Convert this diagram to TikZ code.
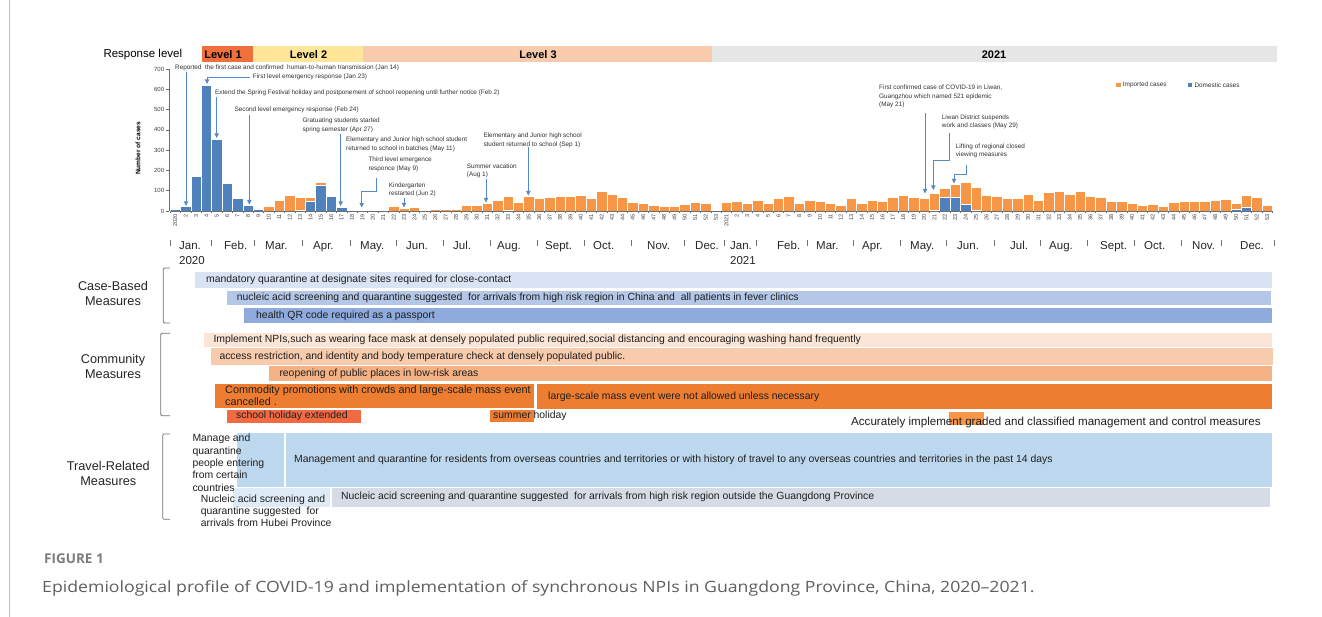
\documentclass[tikz,border=0pt]{standalone}
\usepackage{fontspec}
\setmainfont{Liberation Sans}
\newfontfamily\capfont{Open Sans}
\usetikzlibrary{arrows.meta,fit}
\definecolor{lvA}{RGB}{240,112,60}
\definecolor{lvB}{RGB}{255,230,153}
\definecolor{lvC}{RGB}{248,203,173}
\definecolor{lvD}{RGB}{230,230,230}
\definecolor{impc}{RGB}{247,150,70}
\definecolor{domc}{RGB}{79,129,189}
\definecolor{arrc}{RGB}{84,138,203}
\definecolor{axc}{RGB}{110,110,110}
\definecolor{anntext}{RGB}{50,50,50}
\definecolor{cbA}{RGB}{218,227,243}
\definecolor{cbB}{RGB}{180,199,231}
\definecolor{cbC}{RGB}{143,170,220}
\definecolor{cmA}{RGB}{251,229,214}
\definecolor{cmB}{RGB}{248,203,173}
\definecolor{cmC}{RGB}{244,177,131}
\definecolor{cmD}{RGB}{237,125,49}
\definecolor{cmE}{RGB}{241,106,66}
\definecolor{trA}{RGB}{189,215,238}
\definecolor{trB}{RGB}{222,235,247}
\definecolor{trC}{RGB}{214,220,229}
\definecolor{framec}{RGB}{190,190,190}
\definecolor{capc}{RGB}{95,95,95}
\definecolor{figc}{RGB}{125,125,125}
\newcommand\mbar[6]{\node[fit={(#3,#4)(#5,#6)}, inner sep=0, fill=#2] (#1) {};}
\begin{document}
\begin{tikzpicture}[x=1pt,y=-1pt,
 ann/.style={font=\fontsize{6.4}{8.5}\selectfont, text=anntext, inner sep=0, align=left, anchor=west},
 arr/.style={draw=arrc, line width=0.8, -{Triangle[width=4.2pt,length=4.5pt]}},
 lvl/.style={font=\fontsize{11}{13}\selectfont\bfseries, inner sep=0},
 mtext/.style={font=\fontsize{10.4}{11.8}\selectfont, text=black!88, inner sep=0, anchor=west, align=left},
 grp/.style={font=\fontsize{12.7}{15.3}\selectfont, align=center, inner sep=0, text=black!85},
 brk/.style={draw=black!55, line width=0.8, rounded corners=1.2},
 xlab/.style={rotate=90, anchor=east, font=\fontsize{5.5}{6}\selectfont, inner sep=0, text=black!75},
 ylab/.style={anchor=east, font=\fontsize{6}{7}\selectfont, inner sep=0, text=black!75},
 mon/.style={anchor=base west, font=\fontsize{11.5}{13}\selectfont, inner sep=0, text=black!85},
 bar/.style={draw=white, line width=0.5}]
\useasboundingbox (0,0) rectangle (1322,617);
\fill[white] (0,0) rectangle (1322,617);
\draw[framec, line width=1] (9,0) -- (9,617);

% response level
\node[font=\fontsize{11.5}{13}\selectfont, anchor=base west, inner sep=0] (resp) at (103.3,57.3) {Response level};
\mbar{lv1}{lvA}{202}{46}{253}{62}
\mbar{lv2}{lvB}{253}{46}{363}{62}
\mbar{lv3}{lvC}{363}{46}{712}{62}
\mbar{lv4}{lvD}{712}{46}{1277}{62}
\node[lvl] (lv1t) at (223,54.5) {Level 1};
\node[lvl] (lv2t) at (308.5,54.5) {Level 2};
\node[lvl] (lv3t) at (538,54.5) {Level 3};
\node[lvl] (lv4t) at (994,54.5) {2021};

% y axis
\draw[axc, line width=0.6] (169,69) -- (169,211);
\foreach \k in {0,...,7} {
  \pgfmathsetmacro\yy{211-\k*20.29}
  \draw[axc, line width=0.6] (166.3,\yy) -- (169,\yy);
  \node[ylab] (yl\k) at (164.3,\yy) {\the\numexpr\k*100\relax};
}
\node[rotate=90, font=\fontsize{6.6}{8}\selectfont\bfseries, inner sep=0] (ytitle) at (138,148.3) {Number of cases};

% bars
\foreach \t/\d [count=\n from 0] in {8/8,27/25,177/173,625/620,355/352,140/139,68/65,30/26,13/8,25/0,
 55/0,76/0,66/3,70/46,144/125,79/73,21/18,8/2,3/0,5/0,
 5/0,24/0,13/0,20/0,5/0,8/0,10/0,8/0,26/0,26/0,
 36/0,53/0,72/3,43/0,74/0,63/0,66/0,72/0,72/0,77/0,
 63/0,99/0,82/0,69/0,43/0,36/0,30/0,21/0,25/0,31/0,
 41/0,36/0,3/0,
 43/0,50/0,40/0,51/0,38/0,61/0,72/0,36/0,51/0,46/0,
 36/0,28/0,64/0,36/0,54/0,49/0,66/0,77/0,67/0,64/0,
 89/5,110/67,134/67,140/31,117/5,76/0,71/0,61/0,61/0,82/0,
 54/0,94/0,99/0,82/0,97/0,71/0,69/0,46/0,46/0,40/0,
 28/0,35/0,25/0,43/0,46/0,46/0,48/0,53/0,58/0,38/7,
 80/18,69/0,28/0} {
  \pgfmathsetmacro\xl{170+10.4*\n}
  \pgfmathsetmacro\xr{\xl+10.4}
  \pgfmathsetmacro\yt{211-\t*0.2029}
  \path[bar, fill=impc] (\xl,211) rectangle (\xr,\yt);
  \ifnum\d>0
    \pgfmathsetmacro\yd{211-\d*0.2029}
    \path[bar, fill=domc] (\xl,211) rectangle (\xr,\yd);
  \fi
}
% x axis
\draw[axc, line width=0.7] (170,211) -- (1272,211);
\foreach \n in {0,...,106} {\draw[axc, line width=0.5] ({170+10.4*\n},211) -- ++(0,2.5);}
\foreach \n in {0,...,105} {
  \pgfmathtruncatemacro\w{\n<53 ? \n+1 : \n-52}
  \ifnum\n=0 \def\lab{2020}\else\ifnum\n=53 \def\lab{2021}\else\edef\lab{\w}\fi\fi
  \node[xlab] (xl\n) at ({175.2+10.4*\n},214) {\lab};
}

% months
\foreach \x in {170,211,254,302,350,396,443,490,537,584,631,684,724,756,807,853,900,946,994,1040,1087,1134,1181,1221,1274}
  {\draw[black!55, line width=0.5] (\x,240.5) -- (\x,246.5);}
\foreach \x/\m [count=\c] in {179/Jan.,224/Feb.,265/Mar.,313/Apr.,360/May.,406/Jun.,453/Jul.,497/Aug.,545/Sept.,593/Oct.,647/Nov.,695/Dec.,
 730/Jan.,777/Feb.,816/Mar.,862/Apr.,910/May.,957/Jun.,1010/Jul.,1049/Aug.,1100/Sept.,1144/Oct.,1192/Nov.,1240/Dec.}
  {\node[mon] (mo\c) at (\x,249.5) {\m};}
\node[mon] (yr20) at (179,264.5) {2020};
\node[mon] (yr21) at (730,264.5) {2021};

% legend
\node[fill=impc, minimum size=4.4pt, inner sep=0] (legi) at (1118.3,85) {};
\node[ann] (legit) at (1122.7,85) {Imported cases};
\node[fill=domc, minimum size=4.4pt, inner sep=0] (legd) at (1190,85) {};
\node[ann] (legdt) at (1194.3,85) {Domestic cases};

% annotations
\node[ann] (a1) at (175,67.7) {Reported\ \ the first case and confirmed\ \ human-to-human transmission (Jan 14)};
\node[ann] (a2) at (252.7,77.3) {First level emergency response (Jan 23)};
\node[ann] (a3) at (215,92.7) {Extend the Spring Festival holiday and postponement of school reopening until further notice (Feb 2)};
\node[ann] (a4) at (234.3,109.7) {Second level emergency response (Feb 24)};
\node[ann] (a5) at (302.3,125.5) {Gratuating students started\\spring semester (Apr 27)};
\node[ann] (a6) at (346,144.2) {Elementary and Junior high school student\\returned to school in batches (May 11)};
\node[ann] (a7) at (368.3,164.2) {Third level emergence\\responce (May 9)};
\node[ann] (a8) at (388.7,189.8) {Kindergarten\\restarted (Jun 2)};
\node[ann] (a9) at (466.7,170.8) {Summer vacation\\(Aug 1)};
\node[ann] (a10) at (483.3,140.3) {Elementary and Junior high school\\student returned to school (Sep 1)};
\node[ann] (a11) at (879,96.5) {First confirmed case of COVID-19 in Liwan,\\Guangzhou which named 521 epidemic\\(May 21)};
\node[ann] (a12) at (941.7,121.8) {Liwan District suspends\\work and classes (May 29)};
\node[ann] (a13) at (955.7,150.8) {Lifting of regional closed\\viewing measures};

\coordinate (p1a) at (186,71.7);   \coordinate (p1b) at (186,206);
\coordinate (p2a) at (250,77.5);   \coordinate (p2b) at (207,77.5);  \coordinate (p2c) at (207,84);
\coordinate (p3a) at (216.7,97.3); \coordinate (p3b) at (216.7,138);
\coordinate (p4a) at (249.3,115);  \coordinate (p4b) at (249.3,204.5);
\coordinate (p5a) at (340.7,134);  \coordinate (p5b) at (340.7,206);
\coordinate (p7a) at (376,178.3);  \coordinate (p7b) at (376,191.7); \coordinate (p7c) at (361.7,191.7); \coordinate (p7d) at (361.7,207.5);
\coordinate (p8a) at (404,198.3);  \coordinate (p8b) at (404,207.5);
\coordinate (p9a) at (486,179.3);  \coordinate (p9b) at (486,202.5);
\coordinate (p10a) at (528.3,147.3); \coordinate (p10b) at (528.3,195.5);
\coordinate (p11a) at (925,113.3); \coordinate (p11b) at (925,193.5);
\coordinate (p12a) at (949.3,133.3); \coordinate (p12b) at (949.3,160.7); \coordinate (p12c) at (933.3,160.7); \coordinate (p12d) at (933.3,190);
\coordinate (p13a) at (966.7,165); \coordinate (p13b) at (966.7,174); \coordinate (p13c) at (954,174); \coordinate (p13d) at (954,183.5);
\draw[arr] (p1a) -- (p1b);
\draw[arr] (p2a) -- (p2b) -- (p2c);
\draw[arr] (p3a) -- (p3b);
\draw[arr] (p4a) -- (p4b);
\draw[arr] (p5a) -- (p5b);
\draw[arr] (p7a) -- (p7b) -- (p7c) -- (p7d);
\draw[arr] (p8a) -- (p8b);
\draw[arr] (p9a) -- (p9b);
\draw[arr] (p10a) -- (p10b);
\draw[arr] (p11a) -- (p11b);
\draw[arr] (p12a) -- (p12b) -- (p12c) -- (p12d);
\draw[arr] (p13a) -- (p13b) -- (p13c) -- (p13d);

% group labels and brackets
\node[grp] (g1) at (113,293.3) {Case-Based\\Measures};
\node[grp] (g2) at (113,366.7) {Community\\Measures};
\node[grp] (g3) at (108.3,473.8) {Travel-Related\\Measures};
\draw[brk] (170,268) -- (163.3,268) -- (163.3,323) -- (170,323);
\draw[brk] (170,333.3) -- (160.7,333.3) -- (160.7,415.7) -- (170,415.7);
\draw[brk] (170,434) -- (162.7,434) -- (162.7,519.3) -- (170,519.3);

% measure boxes
\mbar{mA}{cbA}{195}{272.3}{1272}{288.3}
\mbar{mB}{cbB}{226.7}{291}{1271}{305}
\mbar{mC}{cbC}{244.3}{307.7}{1272}{323.3}
\mbar{mD}{cmA}{204.3}{333.3}{1272}{346.7}
\mbar{mE}{cmB}{210.7}{348.3}{1273}{365}
\mbar{mF}{cmC}{269.3}{366}{1272}{381}
\mbar{mG}{cmD}{215}{384}{534}{408.3}
\mbar{mH}{cmD}{537.3}{384}{1272}{409}
\mbar{mI}{cmE}{227.3}{410}{360.7}{422.7}
\mbar{mJ}{cmD}{490}{410}{534.3}{422}
\mbar{mK}{impc}{949}{411.7}{984.3}{425}
\mbar{mL}{trA}{236.7}{433.3}{284}{486.7}
\mbar{mM}{trA}{285.7}{433.3}{1272}{486.7}
\mbar{mN}{trB}{232.7}{487.7}{330}{506.7}
\mbar{mO}{trC}{331.7}{487.7}{1270}{506.7}

\node[mtext] (tA) at (206,280.3) {mandatory quarantine at designate sites required for close-contact};
\node[mtext] (tB) at (236.7,298) {nucleic acid screening and quarantine suggested\ \ for arrivals from high risk region in China and\ \ all patients in fever clinics};
\node[mtext] (tC) at (256,315.5) {health QR code required as a passport};
\node[mtext] (tD) at (213.3,340) {Implement NPIs,such as wearing face mask at densely populated public required,social distancing and encouraging washing hand frequently};
\node[mtext] (tE) at (219.3,356.7) {access restriction, and identity and body temperature check at densely populated public.};
\node[mtext] (tF) at (279.3,373.5) {reopening of public places in low-risk areas};
\node[mtext, font=\fontsize{10.8}{11.8}\selectfont] (tG) at (225,396) {Commodity promotions with crowds and large-scale mass event\\cancelled .};
\node[mtext] (tH) at (548,396.5) {large-scale mass event were not allowed unless necessary};
\node[mtext] (tI) at (236,416.3) {school holiday extended};
\node[mtext] (tJ) at (493,416.3) {summer holiday};
\node[mtext, font=\fontsize{11.6}{13}\selectfont] (tK) at (851,422.3) {Accurately implement graded and classified management and control measures};
\node[mtext, font=\fontsize{10.4}{12.3}\selectfont] (tL) at (192.3,462.8) {Manage and\\quarantine\\people entering\\from certain\\countries};
\node[mtext] (tM) at (294,460) {Management and quarantine for residents from overseas countries and territories or with history of travel to any overseas countries and territories in the past 14 days};
\node[mtext, font=\fontsize{10.4}{12.2}\selectfont] (tN) at (200.7,510.5) {Nucleic acid screening and\\quarantine suggested\ \ for\\arrivals from Hubei Province};
\node[mtext] (tO) at (341,497.2) {Nucleic acid screening and quarantine suggested\ \ for arrivals from high risk region outside the Guangdong Province};

% caption
\node[anchor=base west, font=\capfont\fontsize{13.5}{16}\selectfont\bfseries, text=figc, inner sep=0] (fig) at (44,563) {FIGURE 1};
\node[anchor=base west, font=\capfont\fontsize{15.5}{18}\selectfont, text=capc, inner sep=0] (cap) at (42,592) {\scalebox{1.14}[1]{Epidemiological profile of COVID-19 and implementation of synchronous NPIs in Guangdong Province, China, 2020–2021.}};
\end{tikzpicture}
\end{document}
